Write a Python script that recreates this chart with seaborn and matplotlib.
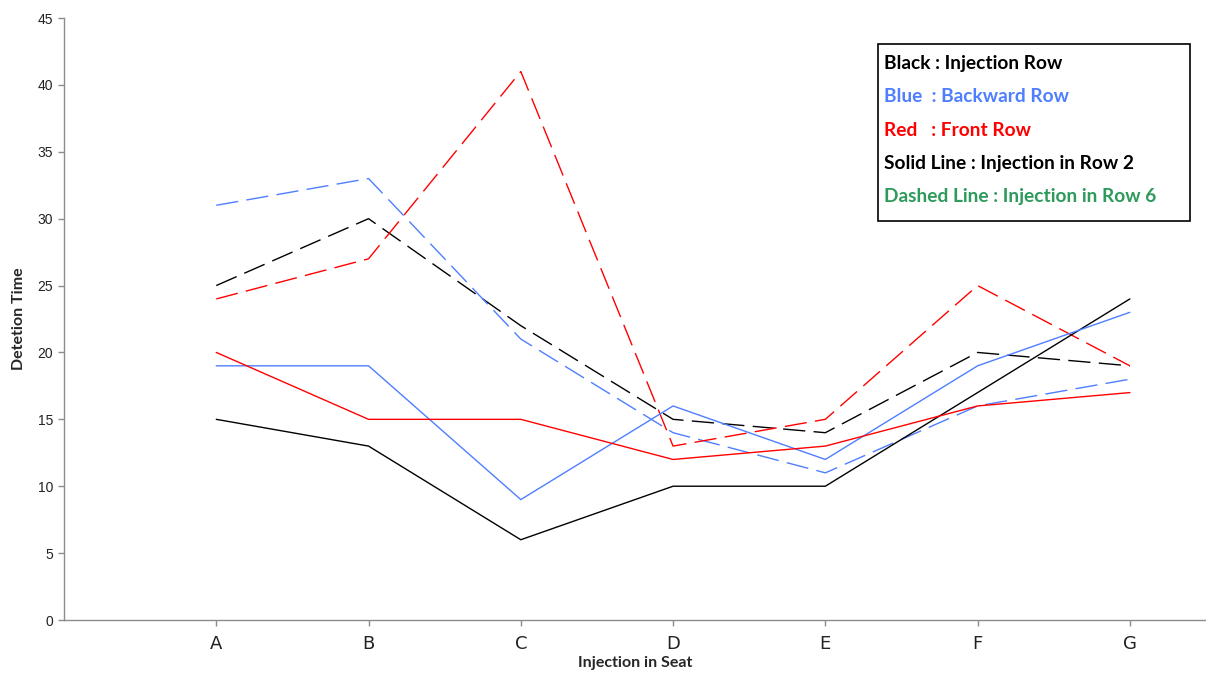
import matplotlib
matplotlib.use("Agg")
import matplotlib.pyplot as plt
import seaborn as sns
import pandas as pd

seats = ["A", "B", "C", "D", "E", "F", "G"]

black_row2 = [15, 13, 6, 10, 10, 17, 24]
black_row6 = [25, 30, 22, 15, 14, 20, 19]
blue_row2 = [19, 19, 9, 16, 12, 19, 23]
blue_row6 = [31, 33, 21, 14, 11, 16, 18]
red_row2 = [20, 15, 15, 12, 13, 16, 17]
red_row6 = [24, 27, 41, 13, 15, 25, 19]

y_ticks = [0, 5, 10, 15, 20, 25, 30, 35, 40, 45]

sns.set_style("white")
plt.rcParams["font.family"] = ["Lato", "DejaVu Sans"]

BLACK = "#000000"
BLUE = "#4F7FFF"
RED = "#FF0000"
GREEN = "#2E9A5C"

fig = plt.figure(figsize=(12.06, 6.75), dpi=100)
ax = fig.add_axes([64 / 1206, 55 / 675, 1 - 64 / 1206, (620 - 18) / 675])

series = [
    (black_row6, BLACK, True),
    (blue_row6, BLUE, True),
    (red_row6, RED, True),
    (black_row2, BLACK, False),
    (blue_row2, BLUE, False),
    (red_row2, RED, False),
]
for values, color, dashed in series:
    df = pd.DataFrame({"seat": seats, "time": values})
    line = sns.lineplot(data=df, x="seat", y="time", ax=ax, color=color,
                        linewidth=1.0, sort=False)
    if dashed:
        line.lines[-1].set_dashes([16, 6])

ax.set_xlim(-1, 6.5)
ax.set_ylim(0, 45)
ax.set_yticks(y_ticks)
ax.set_xticks(range(len(seats)))
ax.set_xticklabels(seats, fontfamily="Liberation Sans Narrow", fontsize=13)
for lab in ax.get_yticklabels():
    lab.set_fontfamily("Liberation Sans")
    lab.set_fontsize(10)

sns.despine(ax=ax)
for s in ("left", "bottom"):
    ax.spines[s].set_color("#8c8c8c")
    ax.spines[s].set_linewidth(1.0)
ax.tick_params(axis="both", which="major", bottom=True, left=True,
               direction="out", length=4, color="#8c8c8c",
               width=1.0, pad=4, labelcolor="#222222")
ax.tick_params(axis="x", pad=7)

ax.set_xlabel("Injection in Seat", fontsize=11.5, fontweight="bold", labelpad=2)
ax.set_ylabel("Detetion Time", fontsize=11.5, fontweight="bold", labelpad=8)

# Explanatory key box
box_x0, box_y0, box_x1, box_y1 = 878, 44, 1190, 221
fig.patches.append(plt.Rectangle((box_x0 / 1206, 1 - box_y1 / 675),
                                 (box_x1 - box_x0) / 1206, (box_y1 - box_y0) / 675,
                                 transform=fig.transFigure, fill=True,
                                 facecolor="white", edgecolor="black",
                                 linewidth=1.2, zorder=5))
key_lines = [
    ("Black : Injection Row", BLACK),
    ("Blue  : Backward Row", BLUE),
    ("Red   : Front Row", RED),
    ("Solid Line : Injection in Row 2", BLACK),
    ("Dashed Line : Injection in Row 6", GREEN),
]
for i, (txt, col) in enumerate(key_lines):
    fig.text(884 / 1206, 1 - (63 + i * 33.5) / 675, txt, color=col,
             fontsize=13.8, fontweight="bold", va="center", ha="left", zorder=6)

fig.savefig("out.png", dpi=100)
